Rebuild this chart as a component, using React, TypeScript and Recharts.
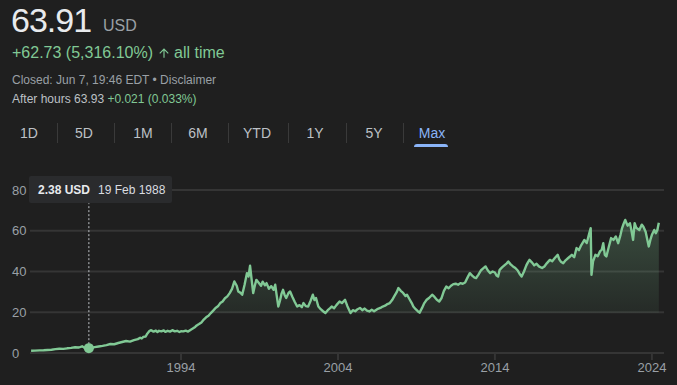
import React from 'react';
import { AreaChart, Area, XAxis, YAxis, CartesianGrid, ReferenceLine, ReferenceDot } from 'recharts';

// ---- data (decimal year, price in USD) ----
const years = [
  1984.45, 1984.7, 1985.0, 1985.25, 1985.5, 1985.75, 1986.0, 1986.25, 1986.5, 1986.75,
  1987.0, 1987.25, 1987.5, 1987.7, 1987.85, 1988.0, 1988.13, 1988.3, 1988.5, 1988.75,
  1989.0, 1989.25, 1989.5, 1989.75, 1990.0, 1990.25, 1990.5, 1990.75, 1991.0, 1991.25,
  1991.4, 1991.5, 1991.6, 1991.75, 1991.85, 1992.0, 1992.1, 1992.25, 1992.4, 1992.5,
  1992.6, 1992.75, 1992.9, 1993.0, 1993.15, 1993.3, 1993.45, 1993.6, 1993.75, 1993.9,
  1994.0, 1994.15, 1994.3, 1994.45, 1994.6, 1994.75, 1994.9, 1995.0, 1995.15, 1995.3,
  1995.45, 1995.6, 1995.75, 1995.9, 1996.05, 1996.2, 1996.35, 1996.5, 1996.65, 1996.8,
  1996.95, 1997.1, 1997.25, 1997.4, 1997.55, 1997.65, 1997.8, 1997.9, 1998.05, 1998.2,
  1998.3, 1998.4, 1998.5, 1998.6, 1998.7, 1998.8, 1998.95, 1999.1, 1999.2, 1999.35,
  1999.45, 1999.6, 1999.75, 1999.9, 2000.0, 2000.1, 2000.2, 2000.3, 2000.4, 2000.5,
  2000.6, 2000.7, 2000.85, 2000.95, 2001.1, 2001.25, 2001.4, 2001.55, 2001.7, 2001.8,
  2001.95, 2002.1, 2002.25, 2002.4, 2002.5, 2002.6, 2002.75, 2002.9, 2003.05, 2003.2,
  2003.35, 2003.5, 2003.6, 2003.75, 2003.9, 2004.1, 2004.25, 2004.45, 2004.6, 2004.8,
  2004.95, 2005.1, 2005.25, 2005.4, 2005.55, 2005.7, 2005.85, 2006.0, 2006.15, 2006.3,
  2006.5, 2006.7, 2006.85, 2007.0, 2007.15, 2007.3, 2007.45, 2007.6, 2007.75, 2007.85,
  2008.0, 2008.15, 2008.3, 2008.4, 2008.55, 2008.7, 2008.8, 2008.95, 2009.1, 2009.2,
  2009.35, 2009.5, 2009.65, 2009.8, 2010.0, 2010.15, 2010.3, 2010.45, 2010.6, 2010.75,
  2010.9, 2011.05, 2011.2, 2011.35, 2011.5, 2011.65, 2011.8, 2011.95, 2012.1, 2012.25,
  2012.4, 2012.55, 2012.7, 2012.8, 2012.95, 2013.1, 2013.25, 2013.4, 2013.55, 2013.7,
  2013.85, 2014.0, 2014.1, 2014.2, 2014.3, 2014.45, 2014.6, 2014.75, 2014.85, 2015.0,
  2015.15, 2015.3, 2015.45, 2015.6, 2015.7, 2015.85, 2016.0, 2016.1, 2016.2, 2016.35,
  2016.5, 2016.65, 2016.8, 2017.0, 2017.15, 2017.3, 2017.5, 2017.65, 2017.8, 2018.0,
  2018.1, 2018.2, 2018.35, 2018.5, 2018.65, 2018.8, 2018.9, 2019.05, 2019.2, 2019.35,
  2019.5, 2019.7, 2019.85, 2020.0, 2020.1, 2020.15, 2020.25, 2020.4, 2020.55, 2020.7,
  2020.8, 2020.9, 2021.0, 2021.1, 2021.25, 2021.4, 2021.55, 2021.7, 2021.85, 2022.0,
  2022.1, 2022.2, 2022.3, 2022.45, 2022.6, 2022.7, 2022.8, 2022.9, 2023.0, 2023.2,
  2023.35, 2023.45, 2023.6, 2023.8, 2023.9, 2024.0, 2024.15, 2024.25, 2024.35, 2024.44,
];

const prices = [
  1.1, 1.15, 1.3, 1.35, 1.5, 1.6, 1.9, 2.1, 2.0, 2.3,
  2.5, 2.8, 2.7, 3.3, 2.6, 2.9, 2.38, 2.6, 2.9, 3.2,
  3.5, 3.9, 4.4, 4.3, 4.9, 5.4, 5.9, 5.6, 6.3, 6.8,
  7.5, 7.1, 7.9, 8.1, 9.5, 10.9, 11.2, 10.5, 11.0, 10.3,
  10.9, 10.6, 11.1, 10.4, 10.9, 10.5, 11.2, 10.6, 10.9, 10.3,
  10.7, 10.6, 11.0, 10.5, 11.3, 12.0, 12.8, 13.5, 14.2, 15.0,
  16.4, 17.5, 18.3, 19.6, 20.8, 22.1, 22.9, 24.5, 25.3, 26.9,
  27.8, 29.4, 31.5, 35.1, 33.0, 30.2, 29.5, 28.6, 33.5, 39.2,
  37.5, 42.8, 36.0, 29.4, 33.0, 35.9, 34.5, 33.0, 35.0, 33.2,
  34.3, 31.5, 32.8, 31.0, 33.5, 28.0, 22.8, 25.5, 29.0, 31.0,
  28.5, 27.0, 29.5, 30.2, 27.5, 25.0, 22.8, 23.5, 22.5, 24.5,
  23.0, 22.8, 25.5, 28.6, 26.0, 27.0, 22.8, 21.5, 20.5, 19.6,
  21.0, 22.0, 22.8, 22.0, 23.5, 25.3, 24.5, 26.1, 23.0, 19.6,
  21.0, 20.5, 21.5, 22.1, 21.0, 21.8, 20.8, 20.4, 21.2, 20.5,
  21.5, 22.1, 22.8, 23.2, 24.0, 24.5, 26.0, 28.0, 30.0, 31.9,
  30.5, 29.5, 28.0, 28.6, 26.5, 24.5, 22.8, 21.5, 20.4, 19.8,
  22.0, 24.5, 26.1, 27.0, 28.6, 27.5, 26.1, 25.3, 27.0, 30.5,
  32.6, 31.8, 33.0, 33.8, 34.0, 33.5, 34.3, 34.0, 34.6, 37.0,
  39.2, 38.0, 37.0, 36.8, 38.5, 40.5, 41.5, 42.5, 40.5, 39.2,
  40.0, 39.5, 38.0, 37.5, 40.8, 42.0, 43.0, 44.0, 44.9, 43.5,
  42.5, 41.7, 40.5, 38.5, 37.5, 40.0, 43.0, 44.5, 45.7, 44.5,
  43.0, 43.8, 42.5, 41.7, 42.5, 44.0, 45.7, 45.0, 46.5, 48.2,
  46.0, 44.8, 44.1, 45.5, 46.5, 47.5, 48.2, 47.0, 51.5, 50.5,
  53.0, 55.5, 54.0, 58.5, 61.3, 38.4, 45.0, 48.2, 47.5, 50.0,
  50.6, 53.9, 48.2, 47.4, 52.0, 56.4, 55.5, 57.2, 53.9, 58.0,
  61.3, 63.5, 65.3, 62.5, 63.7, 60.0, 55.5, 63.7, 61.5, 60.4,
  63.0, 62.1, 59.5, 52.3, 55.5, 58.0, 60.4, 58.8, 60.5, 63.91,
];

const xTicks = [1994, 2004, 2014, 2024];
const yTicks = [0, 20, 40, 60, 80];
const tabs = ['1D', '5D', '1M', '6M', 'YTD', '1Y', '5Y', 'Max'];
const activeTab = 'Max';
const hoverYear = 1988.13;
const hoverPrice = 2.38;
const hoverPriceLabel = '2.38 USD';
const hoverDateLabel = '19 Feb 1988';

const priceText = '63.91';
const currencyText = 'USD';
const changeText = '+62.73 (5,316.10%)';
const periodText = 'all time';
const closedText = 'Closed: Jun 7, 19:46 EDT • Disclaimer';
const afterHoursText = 'After hours 63.93';
const afterHoursChange = '+0.021 (0.033%)';

// ---- layout / style (not data) ----
const W = 677;
const H = 385;
const BG = '#1f1f1f';
const GREEN = '#81c995';
const GREY = '#9aa0a6';
const LIGHT = '#bdc1c6';
const FONT = 'Arial, "Liberation Sans", Helvetica, sans-serif';
const tabCenters = [29, 84, 143, 198, 257, 315, 374, 432];
const tabSeparators = [57, 114, 171, 228, 288, 346, 403];

const data = years.map((t, i) => ({ t, p: prices[i] }));

const YTick = (props: any) => {
  const { y, payload } = props;
  return (
    <text x={12} y={y} dy={4.5} fill={GREY} fontSize={13} fontFamily={FONT} textAnchor="start">
      {payload.value}
    </text>
  );
};

const XTick = (props: any) => {
  const { x, payload } = props;
  return (
    <text x={x} y={372} fill={GREY} fontSize={13} fontFamily={FONT} textAnchor="middle">
      {payload.value}
    </text>
  );
};

export default function App() {
  return (
    <div
      style={{
        position: 'fixed',
        left: 0,
        top: 0,
        width: W,
        height: H,
        background: BG,
        overflow: 'hidden',
        fontFamily: FONT,
      }}
    >
      {/* header */}
      <div style={{ position: 'absolute', left: 11, top: 3, fontSize: 34, lineHeight: 1, color: '#e8eaed', letterSpacing: -1, whiteSpace: 'nowrap' }}>
        {priceText}
      </div>
      <div style={{ position: 'absolute', left: 103, top: 18, fontSize: 16, lineHeight: 1, color: GREY, whiteSpace: 'nowrap' }}>
        {currencyText}
      </div>
      <div style={{ position: 'absolute', left: 12, top: 45, fontSize: 16, lineHeight: 1, color: GREEN, whiteSpace: 'nowrap', display: 'flex', alignItems: 'center' }}>
        <span>{changeText}</span>
        <svg width={14} height={14} viewBox="0 0 24 24" style={{ margin: '0 3px 0 4px' }}>
          <path d="M4 12l1.41 1.41L11 7.83V20h2V7.83l5.58 5.59L20 12l-8-8-8 8z" fill={GREEN} />
        </svg>
        <span>{periodText}</span>
      </div>
      <div style={{ position: 'absolute', left: 12, top: 74, fontSize: 12, lineHeight: 1, color: GREY, whiteSpace: 'nowrap' }}>
        {closedText}
      </div>
      <div style={{ position: 'absolute', left: 12, top: 93, fontSize: 12, lineHeight: 1, color: LIGHT, whiteSpace: 'nowrap' }}>
        {afterHoursText} <span style={{ color: GREEN }}>{afterHoursChange}</span>
      </div>

      {/* range tabs */}
      {tabs.map((t, i) => (
        <div
          key={t}
          style={{
            position: 'absolute',
            left: tabCenters[i],
            top: 126,
            transform: 'translateX(-50%)',
            fontSize: 14,
            lineHeight: 1,
            color: t === activeTab ? '#8ab4f8' : LIGHT,
            whiteSpace: 'nowrap',
          }}
        >
          {t}
        </div>
      ))}
      {tabSeparators.map((x) => (
        <div key={x} style={{ position: 'absolute', left: x, top: 123, width: 1, height: 20, background: '#3a3a3a' }} />
      ))}
      <div style={{ position: 'absolute', left: 414, top: 144, width: 34, height: 3, borderRadius: '3px 3px 0 0', background: '#8ab4f8' }} />

      {/* chart */}
      <div style={{ position: 'absolute', left: 0, top: 0 }}>
        <AreaChart width={W} height={H} data={data} margin={{ top: 190, right: 13, bottom: 0, left: 0 }}>
          <defs>
            <linearGradient id="areaFill" gradientUnits="userSpaceOnUse" x1="0" y1="190" x2="0" y2="313">
              <stop offset="0" stopColor={GREEN} stopOpacity={0.32} />
              <stop offset="0.995" stopColor={GREEN} stopOpacity={0.07} />
              <stop offset="1" stopColor={GREEN} stopOpacity={0} />
            </linearGradient>
          </defs>
          <CartesianGrid vertical={false} stroke="#353535" strokeWidth={2} />
          <XAxis
            dataKey="t"
            type="number"
            domain={[1984.38, 2024.77]}
            ticks={xTicks}
            allowDataOverflow
            axisLine={false}
            tickLine={{ stroke: '#353535', strokeWidth: 2 }}
            tickSize={7}
            height={32}
            tick={<XTick />}
            interval={0}
          />
          <YAxis
            type="number"
            domain={[0, 80]}
            ticks={yTicks}
            axisLine={false}
            tickLine={false}
            width={30}
            tick={<YTick />}
            interval={0}
          />
          <Area
            type="linear"
            dataKey="p"
            stroke={GREEN}
            strokeWidth={2.4}
            strokeLinejoin="round"
            fill="url(#areaFill)"
            fillOpacity={1}
            dot={false}
            activeDot={false}
            isAnimationActive={false}
          />
          <ReferenceLine
            segment={[
              { x: hoverYear, y: hoverPrice },
              { x: hoverYear, y: 73.5 },
            ]}
            stroke={LIGHT}
            strokeWidth={1}
            strokeDasharray="2 2"
          />
          <ReferenceDot x={hoverYear} y={hoverPrice} r={5} fill={GREEN} stroke="none" />
        </AreaChart>
      </div>

      {/* hover tooltip */}
      <div
        style={{
          position: 'absolute',
          left: 29,
          top: 176,
          width: 143,
          height: 27,
          background: '#2a2b2d',
          borderRadius: 2,
          whiteSpace: 'nowrap',
        }}
      >
        <span style={{ position: 'absolute', left: 9, top: 8, fontSize: 12, lineHeight: 1, fontWeight: 700, color: '#e8eaed' }}>
          {hoverPriceLabel}
        </span>
        <span style={{ position: 'absolute', left: 69, top: 8, fontSize: 12, lineHeight: 1, color: '#dadce0' }}>
          {hoverDateLabel}
        </span>
      </div>
    </div>
  );
}
